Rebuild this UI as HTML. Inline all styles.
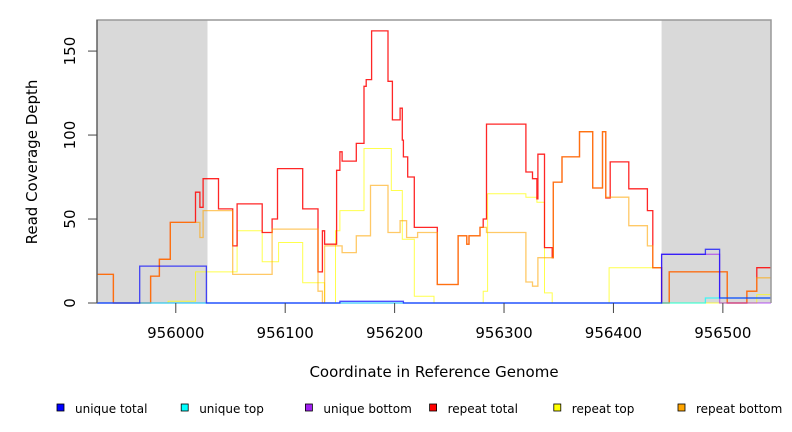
<!DOCTYPE html>
<html><head><meta charset="utf-8"><style>
html,body{margin:0;padding:0;background:#fff;}
svg{display:block;font-family:"DejaVu Sans","Liberation Sans",sans-serif;}
</style></head><body>
<svg id="chart" width="792" height="432" viewBox="0 0 792 432">
<g id="plot"></g>
<g id="axes"></g>
<g id="legend"></g>
</svg>
<script>
// Data: step series (start coordinate, value)
const uniqueTotalX = [955928, 955967, 956028, 956150, 956208, 956444, 956484, 956497];
const uniqueTotalY = [0, 22, 0, 1, 0, 29, 32, 3];
const uniqueTopX = [955928, 956484];
const uniqueTopY = [0, 3];
const uniqueBottomX = [955928, 956444, 956497];
const uniqueBottomY = [0, 29, 0];
const repeatTotalX = [955928, 955943, 955977, 955985, 955995, 956018, 956022, 956025, 956039, 956052, 956056, 956079, 956088, 956093, 956116, 956130, 956134, 956136, 956147, 956150, 956152, 956165, 956172, 956174, 956179, 956194, 956198, 956205, 956207, 956208, 956212, 956218, 956239, 956258, 956266, 956268, 956278, 956281, 956284, 956320, 956326, 956330, 956331, 956337, 956344, 956345, 956353, 956369, 956381, 956390, 956393, 956397, 956414, 956431, 956436, 956444, 956451, 956504, 956522, 956531];
const repeatTotalY = [17, 0, 16, 26, 48, 66, 57, 74, 56, 34, 59, 42, 50, 80, 56, 18.5, 43, 35, 79, 90, 84.5, 95, 129, 133, 162, 132, 109, 116, 97, 87, 75, 45, 11, 40, 35, 40, 45, 50, 106.5, 78, 74, 62, 88.6, 33, 27, 72, 87, 102, 68.5, 102, 62.5, 84, 68, 55, 21, 0, 18.5, 0, 7, 21];
const repeatTopX = [955928, 955993, 956018, 956056, 956079, 956094, 956116, 956136, 956146, 956150, 956172, 956197, 956207, 956218, 956236, 956281, 956285, 956320, 956330, 956337, 956344, 956396, 956444, 956531];
const repeatTopY = [0, 1, 18.5, 43, 24.6, 36, 12, 0, 43, 55, 92, 67, 38, 4, 0, 7, 65, 63, 60, 6, 0, 21, 0, 5];
const repeatBottomX = [955928, 955943, 955977, 955985, 955995, 956022, 956025, 956052, 956088, 956130, 956134, 956136, 956152, 956165, 956178, 956194, 956205, 956211, 956221, 956239, 956258, 956266, 956268, 956278, 956284, 956320, 956326, 956331, 956345, 956353, 956369, 956381, 956390, 956393, 956414, 956431, 956436, 956444, 956451, 956504, 956522, 956531];
const repeatBottomY = [17, 0, 16, 26, 48, 39, 55, 17, 44, 7, 0, 34, 30, 40, 70, 42, 49, 39, 42, 11, 40, 35, 40, 45, 42, 12.5, 10, 27, 72, 87, 102, 68.5, 102, 63, 46, 34, 21, 0, 18.5, 0, 7, 15];
const xTicks = [956000, 956100, 956200, 956300, 956400, 956500];
const yTicks = [0, 50, 100, 150];
const shadeRegions = [[955928, 956029], [956444, 956544]];
const legendLabels = ["unique total", "unique top", "unique bottom", "repeat total", "repeat top", "repeat bottom"];
const legendColors = ["#0000ff", "#00ffff", "#a020f0", "#ff0000", "#ffff00", "#ffa500"];

const X0 = 97, X1 = 771, Y0 = 303, YT = 20;
const xMin = 955928, xMax = 956544, yMax = 168.5;
const sx = v => X0 + (v - xMin) / (xMax - xMin) * (X1 - X0);
const sy = v => Y0 - v / yMax * (Y0 - YT);
const NS = "http://www.w3.org/2000/svg";
function mk(tag, attrs, parent) {
  const e = document.createElementNS(NS, tag);
  for (const k in attrs) e.setAttribute(k, attrs[k]);
  parent.appendChild(e);
  return e;
}
const plot = document.getElementById('plot');
const axes = document.getElementById('axes');
const legend = document.getElementById('legend');

mk('rect', {x: X0, y: YT, width: X1 - X0, height: Y0 - YT, fill: '#fff'}, plot);
shadeRegions.forEach(r => {
  const e = mk('rect', {x: sx(r[0]), y: YT, width: sx(r[1]) - sx(r[0]), height: Y0 - YT, fill: '#d9d9d9'}, plot);
  
  
});

function stepPath(xs, ys) {
  let d = '';
  for (let i = 0; i < xs.length; i++) {
    const xa = sx(xs[i]), xb = sx(i + 1 < xs.length ? xs[i + 1] : xMax), y = sy(ys[i]);
    d += (i === 0 ? 'M' : 'L') + xa.toFixed(1) + ',' + y.toFixed(1) + 'L' + xb.toFixed(1) + ',' + y.toFixed(1);
  }
  return d;
}
const series = [
  [repeatTopX, repeatTopY, '#ffff00', 1, 0.7, 'series-repeat-top'],
  [repeatTotalX, repeatTotalY, '#ff0000', 1.3, 0.85, 'series-repeat-total'],
  [repeatBottomX, repeatBottomY, '#ffa500', 1.3, 0.6, 'series-repeat-bottom'],
  [uniqueBottomX, uniqueBottomY, '#a020f0', 1.3, 0.6, 'series-unique-bottom'],
  [uniqueTopX, uniqueTopY, '#00ffff', 1.3, 0.7, 'series-unique-top'],
  [uniqueTotalX, uniqueTotalY, '#0000ff', 1.3, 0.7, 'series-unique-total']
];
series.forEach(s => {
  const p = mk('path', {d: stepPath(s[0], s[1]), fill: 'none', stroke: s[2], 'stroke-width': s[3], 'stroke-opacity': s[4]}, plot);
  
  
});

// frame
const fr = mk('path', {d: `M${X0},${Y0}L${X0},${YT}L${X1},${YT}L${X1},${Y0}`, fill: 'none', stroke: '#999', 'stroke-width': 1.5}, axes);


mk('line', {x1: X0, y1: YT, x2: X0, y2: Y0, stroke: '#444', 'stroke-width': 1}, axes);

yTicks.forEach(t => {
  const y = sy(t);
  mk('line', {x1: 88, y1: y, x2: X0, y2: y, stroke: '#444'}, axes);
  const tx = mk('text', {x: 75, y: y, 'font-size': 15, 'text-anchor': 'middle', transform: `rotate(-90 75 ${y})`, fill: '#000'}, axes);
  tx.textContent = t;
  
  
});
xTicks.forEach(t => {
  const x = sx(t);
  mk('line', {x1: x, y1: Y0, x2: x, y2: 313, stroke: '#444'}, axes);
  const tx = mk('text', {x: x, y: 338, 'font-size': 15, 'text-anchor': 'middle', fill: '#000'}, axes);
  tx.textContent = t;
  
  
});
const yt = mk('text', {x: 37, y: 162, 'font-size': 15, 'text-anchor': 'middle', transform: 'rotate(-90 37 162)', fill: '#000'}, axes);
yt.textContent = 'Read Coverage Depth';


const xt = mk('text', {x: 434, y: 377, 'font-size': 15, 'text-anchor': 'middle', fill: '#000'}, axes);
xt.textContent = 'Coordinate in Reference Genome';



legendLabels.forEach((lab, i) => {
  const bx = 57 + i * 124.2;
  const g = mk('g', {}, legend);
  
  
  mk('rect', {x: bx, y: 404, width: 7, height: 7, fill: legendColors[i], stroke: '#000', 'stroke-width': 0.8}, g);
  const t = mk('text', {x: bx + 18, y: 413, 'font-size': 12, fill: '#000'}, g);
  t.textContent = lab;
});
</script>
</body></html>
